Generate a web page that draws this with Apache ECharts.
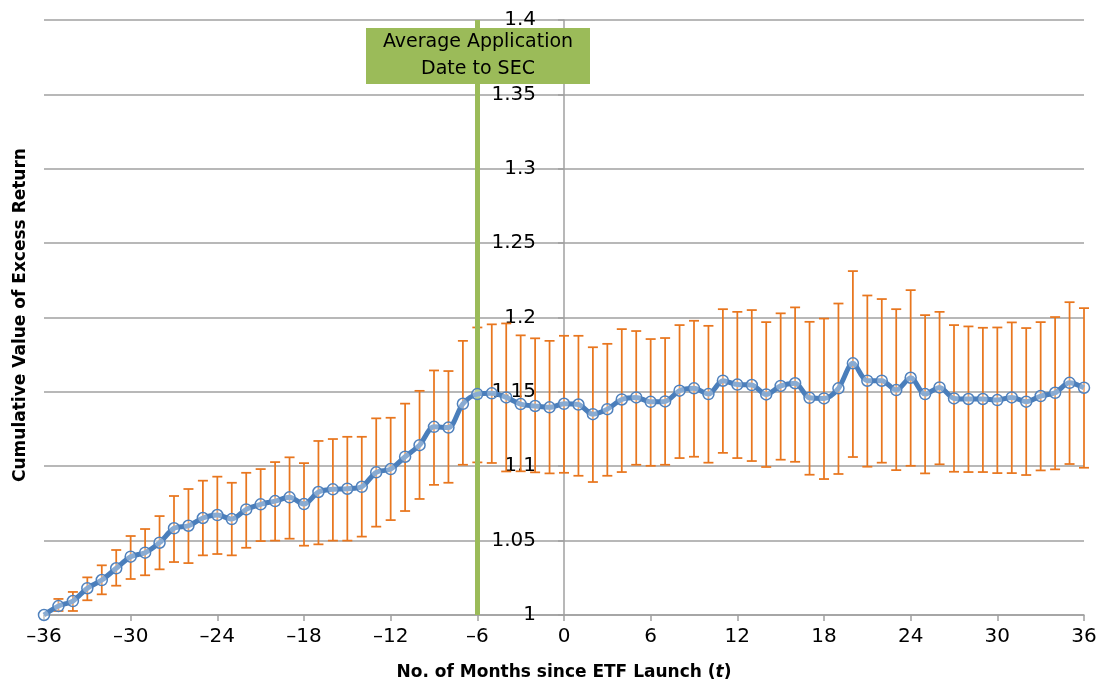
<!DOCTYPE html>
<html>
<head>
<meta charset="utf-8">
<script src="https://cdn.jsdelivr.net/npm/echarts@6/dist/echarts.min.js"></script>
<style>
html,body{margin:0;padding:0;background:#fff;}
#chart{width:1099px;height:683px;}
</style>
</head>
<body>
<div id="chart"></div>
<script>
// Months since ETF launch
const months = [-36,-35,-34,-33,-32,-31,-30,-29,-28,-27,-26,-25,-24,-23,-22,-21,-20,-19,-18,-17,-16,-15,-14,-13,-12,-11,-10,-9,-8,-7,-6,-5,-4,-3,-2,-1,
  0,1,2,3,4,5,6,7,8,9,10,11,12,13,14,15,16,17,18,19,20,21,22,23,24,25,26,27,28,29,30,31,32,33,34,35,36];

// Cumulative value of excess return (mean)
const cumValue = [1.000,1.006,1.0094,1.018,1.0235,1.0314,1.0392,1.0419,1.0486,1.0583,1.060,1.0652,1.0672,1.0645,1.071,1.0744,1.0766,1.0791,1.0746,1.0827,1.0845,1.0849,1.0862,1.0959,1.0981,1.1064,1.1142,1.1265,1.126,1.142,1.1485,1.149,1.1463,1.1418,1.1405,1.1396,
  1.142,1.1415,1.135,1.1384,1.1449,1.1463,1.1433,1.1436,1.1508,1.1524,1.1485,1.1575,1.1549,1.1546,1.1483,1.154,1.1558,1.146,1.1456,1.1524,1.1692,1.1575,1.1575,1.1512,1.1595,1.1485,1.153,1.1456,1.1452,1.1452,1.1445,1.1463,1.1434,1.1472,1.1494,1.1561,1.1528];

// Upper end of error bar
const upperBound = [1.000,1.0108,1.0155,1.0253,1.0334,1.0437,1.0531,1.0578,1.0665,1.080,1.0847,1.0903,1.093,1.0889,1.0956,1.0981,1.1028,1.106,1.1021,1.117,1.1183,1.1198,1.1198,1.1322,1.1326,1.1421,1.1507,1.1644,1.164,1.1843,1.1933,1.1954,1.196,1.188,1.186,1.1843,
  1.1877,1.1877,1.180,1.1823,1.1922,1.1909,1.1855,1.1862,1.1949,1.1978,1.1944,1.2056,1.2038,1.205,1.1969,1.2028,1.2068,1.1971,1.1993,1.2094,1.2312,1.2148,1.2124,1.2056,1.2184,1.2016,1.2038,1.1949,1.194,1.1931,1.1933,1.1967,1.1929,1.1969,1.2003,1.2103,1.2063];

// Lower end of error bar
const lowerBound = [1.000,1.0027,1.0027,1.0099,1.0139,1.0197,1.0242,1.0267,1.0307,1.0356,1.0349,1.0401,1.041,1.0401,1.0452,1.0497,1.050,1.0513,1.0466,1.0475,1.050,1.050,1.0527,1.0594,1.0638,1.0699,1.078,1.0875,1.0889,1.101,1.1026,1.1022,1.0965,1.0966,1.0959,1.0952,
  1.0956,1.0936,1.0894,1.0936,1.0961,1.101,1.1003,1.101,1.1055,1.1064,1.1024,1.109,1.1055,1.1035,1.0995,1.1044,1.103,1.0943,1.0914,1.0948,1.1062,1.0997,1.1024,1.0974,1.1003,1.0952,1.1013,1.0963,1.0961,1.0961,1.0954,1.0954,1.0941,1.0972,1.0979,1.1015,1.099];

const applicationMonth = -6;
const boxText = 'Average Application\nDate to SEC';
const xTitle = 'No. of Months since ETF Launch ({i|t})';
const yTitle = 'Cumulative Value of Excess Return';

const GRID_COLOR = '#A0A0A0';
const ERR_COLOR = '#E8761E';
const LINE_COLOR = '#4A7EBB';
const GREEN = '#9BBB59';
const FONT = 'DejaVu Sans';

const GRID_LEFT = 44, GRID_RIGHT = 15;
const chartW = 1099;

const chart = echarts.init(document.getElementById('chart'), null, {renderer: 'canvas'});

const errData = months.map((m, i) => [m, lowerBound[i], upperBound[i]]);
const lineData = months.map((m, i) => [m, cumValue[i]]);

// y axis sits at x = 0: offset it from the grid's left edge
const plotW = chartW - GRID_LEFT - GRID_RIGHT;
const yAxisOffset = -plotW * (0 - (-36)) / (36 - (-36));

const option = {
  backgroundColor: '#fff',
  animation: false,
  grid: {left: GRID_LEFT, right: GRID_RIGHT, top: 20, bottom: 68, containLabel: false, outerBoundsMode: 'none'},
  xAxis: {
    type: 'value', min: -36, max: 36, interval: 6,
    axisLine: {show: true, onZero: false, lineStyle: {color: GRID_COLOR, width: 1.5}},
    axisTick: {show: true, length: 6, lineStyle: {color: GRID_COLOR, width: 1.5}},
    splitLine: {show: false},
    axisLabel: {
      color: '#000', fontSize: 20, fontFamily: FONT, margin: 12,
      formatter: v => (v < 0 ? '\u2013' + Math.abs(v) : String(v))
    },
    name: xTitle, nameLocation: 'middle', nameGap: 49,
    nameTextStyle: {
      color: '#000', fontSize: 17, fontWeight: 'bold', fontFamily: FONT,
      rich: {i: {fontStyle: 'italic', fontWeight: 'bold', fontSize: 17, fontFamily: FONT, color: '#000'}}
    }
  },
  yAxis: {
    type: 'value', min: 1, max: 1.4, interval: 0.05,
    offset: yAxisOffset,
    axisLine: {show: true, onZero: false, lineStyle: {color: GRID_COLOR, width: 1.5}},
    axisTick: {show: true, length: 6, lineStyle: {color: GRID_COLOR, width: 1.5}},
    splitLine: {show: true, lineStyle: {color: GRID_COLOR, width: 1.5}},
    axisLabel: {
      color: '#000', fontSize: 20, fontFamily: FONT, margin: 28,
      formatter: v => String(Number(v.toFixed(2)))
    }
  },
  series: [
    {
      type: 'custom', z: 2, silent: true,
      renderItem: function (params, api) {
        const x = api.value(0), lo = api.value(1), hi = api.value(2);
        if (hi === lo) return null;
        const pHi = api.coord([x, hi]);
        const pLo = api.coord([x, lo]);
        const hw = 5;
        const st = {stroke: ERR_COLOR, lineWidth: 1.75};
        return {type: 'group', children: [
          {type: 'line', shape: {x1: pHi[0], y1: pHi[1], x2: pLo[0], y2: pLo[1]}, style: st},
          {type: 'line', shape: {x1: pHi[0] - hw, y1: pHi[1], x2: pHi[0] + hw, y2: pHi[1]}, style: st},
          {type: 'line', shape: {x1: pLo[0] - hw, y1: pLo[1], x2: pLo[0] + hw, y2: pLo[1]}, style: st}
        ]};
      },
      encode: {x: 0, y: [1, 2]},
      data: errData
    },
    {
      type: 'line', z: 3, data: [], silent: true,
      markLine: {
        silent: true, symbol: ['none', 'none'], label: {show: false},
        lineStyle: {color: GREEN, width: 5, type: 'solid'},
        emphasis: {disabled: true},
        data: [{xAxis: applicationMonth}]
      }
    },
    {
      type: 'line', z: 5, data: lineData, smooth: 0.3,
      symbol: 'circle', symbolSize: 11,
      itemStyle: {color: 'rgba(255,255,255,0.35)', borderColor: '#4F81BD', borderWidth: 1.5},
      lineStyle: {color: LINE_COLOR, width: 5},
      emphasis: {disabled: true}
    }
  ],
  graphic: [
    {
      type: 'text', x: 21, y: 315, rotation: Math.PI / 2, z: 10,
      style: {text: yTitle, fill: '#000', font: 'bold 17px "DejaVu Sans"', align: 'center', verticalAlign: 'middle'}
    },
    {
      type: 'rect', z: 20, shape: {x: 366, y: 28, width: 224, height: 56},
      style: {fill: GREEN}
    },
    {
      type: 'text', z: 21, x: 478, y: 56,
      style: {text: boxText, fill: '#000', font: '19px "DejaVu Sans"', align: 'center', verticalAlign: 'middle', lineHeight: 27}
    }
  ]
};
chart.setOption(option);
</script>
</body>
</html>
